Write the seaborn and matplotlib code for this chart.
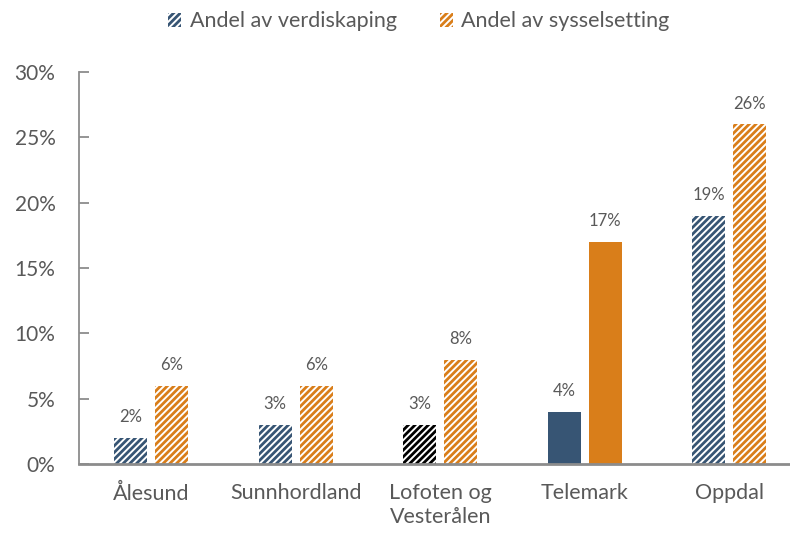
import matplotlib.pyplot as plt
import matplotlib.patches as mpatches
import pandas as pd
import seaborn as sns

# Data
regions = ["Ålesund", "Sunnhordland", "Lofoten og\nVesterålen", "Telemark", "Oppdal"]
verdiskaping = [2, 3, 3, 4, 19]
sysselsetting = [6, 6, 8, 17, 26]
series = ["Andel av verdiskaping", "Andel av sysselsetting"]
yticks = [0, 5, 10, 15, 20, 25, 30]

blue = "#375574"
orange = "#D97E1A"
text_grey = "#595959"
axis_grey = "#8C8C8C"

df = pd.DataFrame({
    "region": regions * 2,
    "serie": [series[0]] * len(regions) + [series[1]] * len(regions),
    "andel": verdiskaping + sysselsetting,
})

sns.set_theme(style="white")
plt.rcParams["font.family"] = ["Lato", "DejaVu Sans"]
plt.rcParams["hatch.linewidth"] = 2.0

fig = plt.figure(figsize=(7.9, 5.34), dpi=100)
ax = fig.add_axes([0.1, 0.131, 0.9146, 0.7341])

sns.barplot(data=df, x="region", y="andel", hue="serie", palette=[blue, orange],
            width=0.567, gap=0.2, ax=ax, legend=False)

# hatched bars, except Telemark which is solid; Lofoten verdiskaping in black hatch
colors = [blue, orange]
for i, cont in enumerate(ax.containers):
    for j, bar in enumerate(cont):
        if regions[j] == "Telemark":
            bar.set_facecolor(colors[i])
            bar.set_linewidth(0)
            continue
        edge = "black" if (i == 0 and j == 2) else colors[i]
        bar.set_facecolor("white")
        bar.set_edgecolor(edge)
        bar.set_hatch("/////")
        bar.set_linewidth(0)
    ax.bar_label(cont, labels=[f"{v:g}%" for v in cont.datavalues], padding=9,
                 fontsize=12, color=text_grey)

ax.set_xlim(-0.5, 4.5)
ax.set_ylim(0, 30)
ax.set_yticks(yticks)
ax.set_yticklabels([f"{t}%" for t in yticks])
ax.set_xlabel("")
ax.set_ylabel("")

ax.tick_params(axis="y", direction="in", length=7, width=1.3, color=axis_grey,
               labelsize=15, labelcolor=text_grey, pad=17, left=True)
ax.tick_params(axis="x", length=0, labelsize=15.5, labelcolor=text_grey, pad=14)

sns.despine(ax=ax, top=True, right=True)
ax.spines["left"].set_color(axis_grey)
ax.spines["left"].set_linewidth(1.3)
ax.spines["bottom"].set_color(axis_grey)
ax.spines["bottom"].set_linewidth(2)

handles = [mpatches.Patch(facecolor="white", edgecolor=c, hatch="/////", linewidth=0)
           for c in colors]
fig.legend(handles, series, loc="upper center", bbox_to_anchor=(0.53, 1.015), ncol=2,
           frameon=False, fontsize=15.5, labelcolor=text_grey, handlelength=0.6,
           handleheight=0.6, handletextpad=0.4, columnspacing=2.0)

fig.savefig("out.png", dpi=100)
